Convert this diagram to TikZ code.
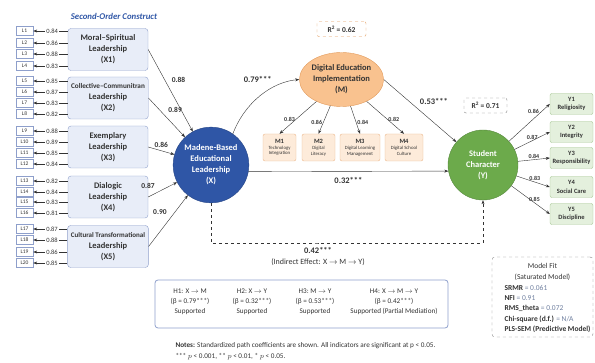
\documentclass[tikz,border=0pt]{standalone}
\usepackage{fontspec}
\setmainfont{Carlito}
\usetikzlibrary{arrows.meta, positioning, shapes.geometric}

\definecolor{bluex}{HTML}{2F56A6}
\definecolor{boxblue}{HTML}{E8EDF8}
\definecolor{lineblue}{HTML}{8E9FCB}
\definecolor{orangem}{HTML}{F9C28F}
\definecolor{orangeline}{HTML}{E29A5A}
\definecolor{peach}{HTML}{FDEBDA}
\definecolor{greeny}{HTML}{6CAA4B}
\definecolor{greenbox}{HTML}{E4F0DD}
\definecolor{greenline}{HTML}{A5C693}
\definecolor{textdark}{HTML}{333333}
\definecolor{valgrey}{HTML}{6F7F9F}

\begin{document}
\begin{tikzpicture}[x=1pt, y=-1pt, >={Stealth[length=4pt, width=3pt]},
  construct/.style={draw=lineblue, fill=boxblue, rounded corners=3pt, minimum width=80pt,
    minimum height=42pt, align=center, text=textdark, font=\fontsize{8.5}{11}\selectfont\bfseries},
  indbox/.style={draw=lineblue, fill=white, minimum width=17pt, minimum height=9pt, inner sep=0pt,
    text=textdark, font=\fontsize{5.5}{6}\selectfont},
  load/.style={fill=white, inner sep=1pt, text=textdark, font=\fontsize{6.5}{7}\selectfont},
  coef/.style={text=textdark, font=\fontsize{7.5}{8}\selectfont\bfseries},
  bigcoef/.style={text=textdark, font=\fontsize{8.5}{10}\selectfont\bfseries},
  mbox/.style={draw=orangeline!70, fill=peach, rounded corners=2pt, minimum height=27pt, inner sep=1pt,
    align=center, text=textdark, font=\fontsize{4.8}{5.8}\selectfont},
  ybox/.style={draw=greenline, fill=greenbox, rounded corners=2pt, minimum width=43pt, minimum height=21pt,
    inner sep=1pt, align=center, text=textdark, font=\fontsize{6.5}{8.5}\selectfont\bfseries},
  rsq/.style={dashed, rounded corners=2pt, minimum height=15pt, text=textdark,
    font=\fontsize{7.5}{9}\selectfont\bfseries},
  small/.style={text=textdark, font=\fontsize{6}{7}\selectfont\bfseries, inner sep=1pt},
  hyp/.style={align=center, text=textdark, font=\fontsize{7.2}{10}\selectfont}]

\useasboundingbox (0,0) rectangle (595,363);

% second-order constructs
\node[text=bluex, font=\fontsize{8.8}{10}\selectfont\bfseries\itshape] (title) at (114,16) {Second-Order Construct};
\node[construct] (X1) at (108,49.5) {Moral–Spiritual\\Leadership\\(X1)};
\node[construct] (X2) at (108,98) {{\fontsize{7.2}{11}\selectfont Collective–Communitran}\\Leadership\\(X2)};
\node[construct] (X3) at (108,147) {Exemplary\\Leadership\\(X3)};
\node[construct] (X4) at (108,197) {Dialogic\\Leadership\\(X4)};
\node[construct] (X5) at (108,246.5) {{\fontsize{7}{11}\selectfont Cultural Transformational}\\Leadership\\(X5)};

% first-order indicators
\foreach \c/\n/\y/\v in {X1/1/31/0.84, X1/2/43/0.86, X1/3/54/0.88, X1/4/66/0.83,
    X2/5/81/0.85, X2/6/92/0.87, X2/7/103/0.83, X2/8/114/0.82,
    X3/9/131/0.88, X3/10/142/0.89, X3/11/153/0.85, X3/12/164/0.84,
    X4/13/181/0.82, X4/14/192/0.84, X4/15/202/0.83, X4/16/213/0.81,
    X5/17/229/0.87, X5/18/240/0.88, X5/19/252/0.86, X5/20/263/0.85}{
  \node[indbox] (L\n) at (24.5,\y) {L\n};
  \draw[->, textdark] (\c.west |- L\n) -- node[load, pos=.45] {\v} (L\n.east);
}

% latent variables
\node[circle, fill=bluex, draw=bluex!80!black, minimum size=70pt, align=center, text=white,
  font=\fontsize{8.5}{11}\selectfont\bfseries] (X) at (211,165) {Madene-Based\\Educational\\Leadership\\(X)};
\node[ellipse, fill=orangem, draw=orangeline, minimum width=76pt, minimum height=54pt, inner sep=0pt,
  align=center, text=textdark, font=\fontsize{8.5}{11}\selectfont\bfseries] (M) at (341.5,79.5)
  {Digital Education\\Implementation\\(M)};
\node[circle, fill=greeny, draw=greeny!80!black, minimum size=70pt, align=center, text=white,
  font=\fontsize{8.5}{11}\selectfont\bfseries] (Y) at (483,165) {Student\\Character\\(Y)};
\node[rsq, draw=orangeline, minimum width=49pt] (RM) at (341.5,29) {R\textsuperscript{2} = 0.62};
\node[rsq, draw=gray, minimum width=43pt] (RY) at (485.5,105.5) {R\textsuperscript{2} = 0.71};

% mediator indicators
\node[mbox, minimum width=33pt] (M1) at (279.5,147.5) {{\fontsize{6.5}{7}\selectfont\bfseries M1}\\Technology\\Integration};
\node[mbox, minimum width=33pt] (M2) at (318.5,147.5) {{\fontsize{6.5}{7}\selectfont\bfseries M2}\\Digital\\Literacy};
\node[mbox, minimum width=40pt] (M3) at (360,147.5) {{\fontsize{6.5}{7}\selectfont\bfseries M3}\\Digital Learning\\Management};
\node[mbox, minimum width=38pt] (M4) at (404,147.5) {{\fontsize{6.5}{7}\selectfont\bfseries M4}\\Digital School\\Culture};

% outcome indicators
\node[ybox] (Y1) at (571.5,104) {Y1\\Religiosity};
\node[ybox] (Y2) at (571.5,132) {Y2\\Integrity};
\node[ybox] (Y3) at (571.5,158) {Y3\\Responsibility};
\node[ybox] (Y4) at (571.5,187) {Y4\\Social Care};
\node[ybox] (Y5) at (571.5,214) {Y5\\Discipline};

% paths to X
\path[->, textdark]
  (X1.east) edge node[coef, pos=.45, above right] {0.88} (X)
  (X2.east) edge node[coef, pos=.45, above right] {0.89} (X)
  (X3.east) edge node[coef, pos=.5, above] {0.86} (X)
  (X4.east) edge node[coef, pos=.35, above left] {0.87} (X)
  (X5.east) edge node[coef, pos=.55, above left] {0.90} (X);

% structural paths
\draw[->, textdark] (X.55) .. controls (245,102) and (272,82) .. node[bigcoef, pos=.7, above left] {0.79***} (M.west);
\draw[->, textdark] (M.east) -- node[bigcoef, pos=.45, above right] {0.53***} (Y);
\draw[->, textdark] (X.-10) -- node[bigcoef, below=3pt] {0.32***} (Y.190);

% indirect effect
\coordinate (ind) at (318,243);
\draw[->, dashed, textdark] (X.south) |- (ind) -| (Y.south);
\node[bigcoef, below=1pt of ind] (indval) {0.42***};
\node[text=textdark, font=\fontsize{8}{9}\selectfont, below=-2pt of indval] (indtxt) {(Indirect Effect: X $\to$ M $\to$ Y)};

% measurement of M and Y
\path[->, textdark]
  (M) edge node[small, pos=.55, left] {0.83} (M1.north)
  (M) edge node[small, pos=.6, left] {0.86} (M2.north)
  (M) edge node[small, pos=.6, right] {0.84} (M3.north)
  (M) edge node[small, pos=.55, right] {0.82} (M4.north);
\path[->, textdark]
  (Y) edge node[small, pos=.6, above=4pt] {0.86} (Y1.west)
  (Y) edge node[small, pos=.5, above] {0.87} (Y2.west)
  (Y) edge node[small, pos=.5, above] {0.84} (Y3.west)
  (Y) edge node[small, pos=.55, above] {0.83} (Y4.west)
  (Y) edge node[small, pos=.6, above] {0.85} (Y5.west);

% hypotheses
\node[draw=lineblue, line width=0.8pt, rounded corners=3pt, minimum width=293pt, minimum height=48pt] (hbox) at (301.5,304) {};
\node[hyp] (H1) at (190,302) {H1: X $\to$ M\\(β = 0.79***)\\Supported};
\node[hyp] (H2) at (252,302) {H2:\ X $\to$ Y\\(β = 0.32***)\\Supported};
\node[hyp] (H3) at (315,302) {H3:\ M $\to$ Y\\(β = 0.53***)\\Supported};
\node[hyp] (H4) at (394,302) {H4: X $\to$ M $\to$ Y\\(β = 0.42***)\\Supported (Partial Mediation)};

% model fit
\node[draw=gray, dashed, rounded corners=3pt, minimum width=101pt, minimum height=80pt] (fit) at (542.5,297) {};
\node[hyp, font=\fontsize{7.5}{10.3}\selectfont] (fittitle) at (542.5,272) {Model Fit\\(Saturated Model)};
\node[hyp, anchor=west, align=left, font=\fontsize{7.5}{10.3}\selectfont] (fitvals) at (501,309)
  {\textbf{SRMR} \textcolor{valgrey}{= 0.061}\\\textbf{NFI} \textcolor{valgrey}{= 0.91}\\
   \textbf{RMS\_theta} \textcolor{valgrey}{= 0.072}\\\textbf{Chi-square (d.f.)} \textcolor{valgrey}{= N/A}\\
   \textbf{PLS-SEM (Predictive Model)}};

% notes
\node[anchor=north west, align=left, text=textdark, font=\fontsize{7.2}{11}\selectfont] (notes) at (172,339)
  {\textbf{Notes:} Standardized path coefficients are shown. All indicators are significant at p < 0.05.\\
   *** $p$ < 0.001, ** $p$ < 0.01, * $p$ < 0.05.};
\end{tikzpicture}
\end{document}
